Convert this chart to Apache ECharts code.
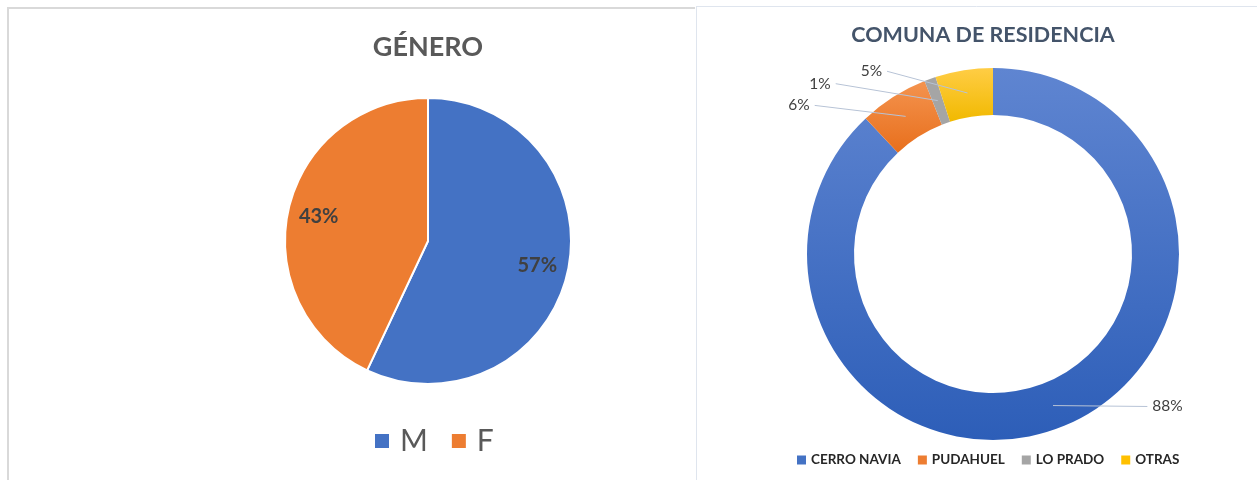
<!DOCTYPE html>
<html><head><meta charset="utf-8">
<script src="https://cdn.jsdelivr.net/npm/echarts@6/dist/echarts.min.js"></script>
<style>html,body{margin:0;padding:0;background:#fff}#c{width:1257px;height:480px}</style>
</head><body><div id="c"></div>
<script>
const generoCats = ['M', 'F'];
const generoVals = [57, 43];
const comunaCats = ['CERRO NAVIA', 'PUDAHUEL', 'LO PRADO', 'OTRAS'];
const comunaVals = [88, 6, 1, 5];

const FONT = 'Lato';
const grad = (a, b) => ({type: 'linear', x: 0, y: 0, x2: 0, y2: 1, colorStops: [{offset: 0, color: a}, {offset: 1, color: b}]});
const generoColors = ['#4472C4', '#ED7D31'];
const comunaColors = [grad('#5F85D1', '#2D5EB8'), grad('#F4934F', '#E86F1C'), '#A5A5A5', grad('#FFCD45', '#F1B900')];
const comunaLegendColors = ['#4472C4', '#ED7D31', '#A5A5A5', '#FFC000'];
const lineLen = [[1, 94], [13, 84], [18, 96], [22, 77]];

const chart = echarts.init(document.getElementById('c'));
const pct = p => Math.round(p.percent) + '%';

chart.setOption({
  animation: false,
  textStyle: {fontFamily: FONT},
  graphic: [
    {type: 'polyline', shape: {points: [[8, 480], [8, 8], [695, 8]]}, style: {fill: 'none', stroke: '#d9d9d9', lineWidth: 2}, silent: true},
    {type: 'line', shape: {x1: 696, y1: 6.5, x2: 1257, y2: 6.5}, style: {stroke: '#dfe5ee', lineWidth: 1}, silent: true},
    {type: 'line', shape: {x1: 696.5, y1: 6, x2: 696.5, y2: 480}, style: {stroke: '#dfe5ee', lineWidth: 1}, silent: true}
  ],
  title: [
    {text: 'GÉNERO', left: 428, top: 34, textAlign: 'center', padding: 0,
     textStyle: {fontFamily: FONT, fontWeight: 'bold', fontSize: 27, color: '#595959'}},
    {text: 'COMUNA DE RESIDENCIA', left: 983, top: 24, textAlign: 'center', padding: 0,
     textStyle: {fontFamily: FONT, fontWeight: 'bold', fontSize: 21.5, color: '#44546A'}}
  ],
  legend: [
    {data: generoCats.map((n, i) => ({name: n, itemStyle: {color: generoColors[i]}})),
     left: 373, top: 426, icon: 'rect', itemWidth: 16, itemHeight: 16, itemGap: 22, padding: 0,
     textStyle: {fontFamily: FONT, fontSize: 30, color: '#595959', padding: [0, 0, 0, 5]}},
    {data: comunaCats.map((n, i) => ({name: n, itemStyle: {color: comunaLegendColors[i]}})),
     left: 797, top: 453, icon: 'rect', itemWidth: 9, itemHeight: 9, itemGap: 17, padding: 0,
     textStyle: {fontFamily: FONT, fontSize: 13.5, fontWeight: 'bold', color: '#262626'}}
  ],
  series: [
    {type: 'pie', center: [428, 241], radius: [0, 143], startAngle: 90, clockwise: true,
     data: generoCats.map((n, i) => ({name: n, value: generoVals[i], itemStyle: {color: generoColors[i]}})),
     itemStyle: {borderColor: '#fff', borderWidth: 2}, label: {show: false}, labelLine: {show: false},
     emphasis: {disabled: true}},
    {type: 'pie', center: [428, 241], radius: [75, 143], startAngle: 90, silent: true, z: 3,
     data: generoCats.map((n, i) => ({name: n, value: generoVals[i]})),
     itemStyle: {color: 'transparent', borderWidth: 0},
     label: {show: true, position: 'inside', formatter: pct, fontFamily: FONT, fontWeight: 'bold', fontSize: 20, color: '#404040'},
     labelLine: {show: false}, emphasis: {disabled: true}},
    {type: 'pie', center: [993, 254], radius: [139, 186], startAngle: 90, clockwise: true,
     data: comunaCats.map((n, i) => ({name: n, value: comunaVals[i], itemStyle: {color: comunaColors[i]}})),
     label: {show: false}, labelLine: {show: false}, emphasis: {disabled: true}},
    {type: 'pie', center: [993, 254], radius: [139, 163], startAngle: 90, silent: true, z: 3,
     avoidLabelOverlap: false,
     data: comunaCats.map((n, i) => ({name: n, value: comunaVals[i], labelLine: {length: lineLen[i][0], length2: lineLen[i][1]}})),
     itemStyle: {color: 'transparent', borderWidth: 0},
     label: {show: true, position: 'outside', formatter: pct, fontFamily: FONT, fontSize: 15.5, color: '#404040', distanceToLabelLine: 5},
     labelLine: {show: true, lineStyle: {color: '#B7C3D6', width: 1}},
     labelLayout: function (p) {
       if (!p.labelLinePoints) return {};
       const a = p.labelLinePoints[0], e = p.labelLinePoints[2];
       return {labelLinePoints: [a, a, e]};
     },
     emphasis: {disabled: true}}
  ]
});
</script></body></html>
